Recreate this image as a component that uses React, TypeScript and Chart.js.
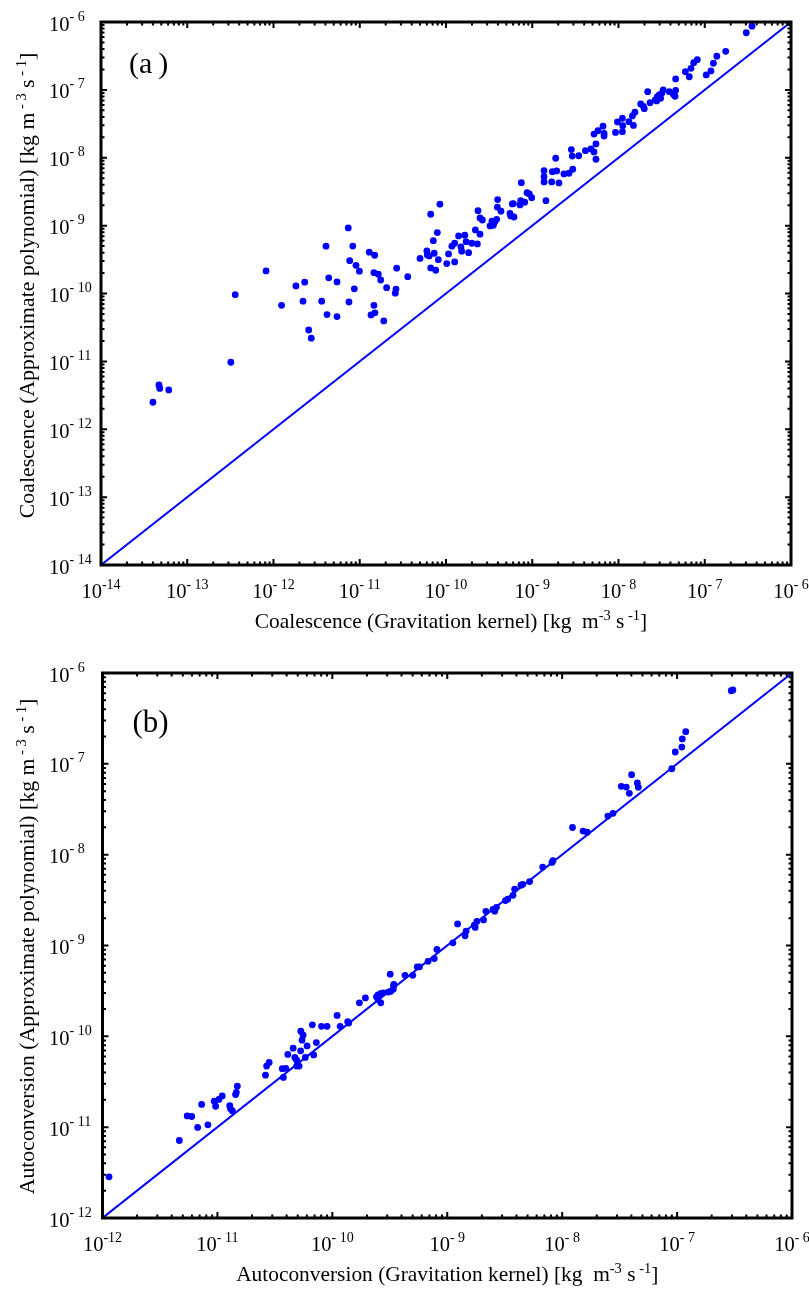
import React, { useEffect, useRef } from 'react';
import { Chart, registerables } from 'chart.js';

Chart.register(...registerables);

// ---------------- data: panel (a) coalescence ----------------
const coalGravitation = [
  4.0e-14, 4.7e-14, 4.8e-14, 6.1e-14, 3.2e-13, 3.6e-13, 8.2e-13, 1.24e-12, 1.82e-12, 2.3e-12,
  2.2e-12, 2.56e-12, 2.74e-12, 3.62e-12, 4.06e-12, 4.37e-12, 4.17e-12, 5.45e-12, 5.45e-12, 7.36e-12,
  8.3e-12, 7.65e-12, 9.05e-12, 9.9e-12, 7.5e-12, 8.65e-12, 1.29e-11, 1.49e-11, 1.46e-11, 1.64e-11,
  1.75e-11, 1.46e-11, 1.35e-11, 1.5e-11, 1.9e-11, 2.05e-11, 2.68e-11, 2.63e-11, 2.58e-11, 3.6e-11,
  5.0e-11, 6.0e-11, 6.07e-11, 6.4e-11, 6.65e-11, 8.5e-11, 7.13e-11, 7.93e-11, 7.3e-11, 8.15e-11,
  6.65e-11, 7.6e-11, 1.02e-10, 1.07e-10, 1.26e-10, 1.17e-10, 1.26e-10, 1.4e-10, 1.49e-10, 1.52e-10,
  1.65e-10, 1.71e-10, 1.83e-10, 1.99e-10, 2.31e-10, 2.19e-10, 2.48e-10, 2.35e-10, 2.48e-10, 2.64e-10,
  3.24e-10, 3.54e-10, 3.67e-10, 3.87e-10, 3.41e-10, 3.97e-10, 3.94e-10, 4.34e-10, 5.52e-10, 5.62e-10,
  6.14e-10, 5.87e-10, 6.04e-10, 7.21e-10, 7.35e-10, 8.18e-10, 7.47e-10, 8.7e-10, 9.25e-10, 9.86e-10,
  1.44e-9, 1.37e-9, 1.37e-9, 1.37e-9, 1.68e-9, 1.71e-9, 1.92e-9, 1.87e-9, 2.04e-9, 2.33e-9,
  2.67e-9, 2.95e-9, 2.84e-9, 2.91e-9, 3.46e-9, 4.14e-9, 4.8e-9, 5.2e-9, 5.48e-9, 5.48e-9,
  5.2e-9, 5.78e-9, 6.61e-9, 6.8e-9, 6.8e-9, 9.23e-9, 9.73e-9, 1.11e-8, 1.12e-8, 1.11e-8,
  1.32e-8, 1.49e-8, 1.45e-8, 1.55e-8, 1.81e-8, 1.94e-8, 1.99e-8, 2.18e-8, 2.32e-8, 2.67e-8,
  2.82e-8, 2.97e-8, 3.17e-8, 3.3e-8, 3.08e-8, 2.77e-8, 3.88e-8, 4.32e-8, 4.6e-8, 4.52e-8,
  4.6e-8, 5.96e-8, 6.62e-8, 6.93e-8, 7.45e-8, 8.2e-8, 1.04e-7, 1.18e-7, 1.26e-7, 1.38e-7,
  1.75e-7, 3.03e-7, 3.53e-7,
];
const coalPolynomial = [
  2.5e-12, 4.5e-12, 4.0e-12, 3.8e-12, 9.7e-12, 9.6e-11, 2.15e-10, 6.7e-11, 1.29e-10, 1.47e-10,
  7.7e-11, 2.9e-11, 2.2e-11, 7.7e-11, 4.98e-10, 1.7e-10, 4.9e-11, 1.48e-10, 4.57e-11, 9.25e-10,
  5.0e-10, 3.05e-10, 2.6e-10, 2.13e-10, 7.5e-11, 1.17e-10, 4.06e-10, 3.66e-10, 2.03e-10, 1.92e-10,
  1.58e-10, 6.7e-11, 4.84e-11, 5.2e-11, 3.95e-11, 1.22e-10, 2.36e-10, 1.16e-10, 1.01e-10, 1.77e-10,
  3.29e-10, 4.24e-10, 3.7e-10, 3.58e-10, 1.47e-9, 2.07e-9, 6.0e-10, 7.9e-10, 3.92e-10, 3.15e-10,
  2.38e-10, 2.2e-10, 2.76e-10, 3.83e-10, 2.92e-10, 4.98e-10, 5.5e-10, 7.05e-10, 4.85e-10, 4.2e-10,
  7.23e-10, 5.8e-10, 4.0e-10, 5.5e-10, 5.37e-10, 8.65e-10, 7.47e-10, 1.66e-9, 1.3e-9, 1.21e-9,
  9.9e-10, 1.01e-9, 1.13e-9, 1.24e-9, 1.16e-9, 2.42e-9, 1.87e-9, 1.63e-9, 1.52e-9, 1.39e-9,
  1.34e-9, 2.09e-9, 2.11e-9, 2.02e-9, 2.33e-9, 2.21e-9, 4.3e-9, 3.06e-9, 2.93e-9, 2.58e-9,
  2.33e-9, 6.46e-9, 5.27e-9, 4.4e-9, 4.4e-9, 6.24e-9, 6.4e-9, 9.84e-9, 4.26e-9, 5.77e-9,
  5.91e-9, 6.77e-9, 1.32e-8, 1.06e-8, 1.07e-8, 1.27e-8, 1.35e-8, 1.22e-8, 9.5e-9, 1.6e-8,
  2.23e-8, 2.5e-8, 2.92e-8, 2.28e-8, 2.09e-8, 2.36e-8, 3.37e-8, 3.82e-8, 2.97e-8, 2.42e-8,
  3.4e-8, 2.99e-8, 4.13e-8, 4.68e-8, 6.2e-8, 5.73e-8, 5.29e-8, 9.4e-8, 6.48e-8, 7.1e-8,
  7.94e-8, 8.41e-8, 8.91e-8, 9.97e-8, 7.52e-8, 6.87e-8, 9.4e-8, 8.61e-8, 9.86e-8, 8.05e-8,
  1.45e-7, 1.85e-7, 1.56e-7, 2.08e-7, 2.52e-7, 2.79e-7, 1.66e-7, 1.9e-7, 2.47e-7, 3.13e-7,
  3.7e-7, 6.95e-7, 8.67e-7,
];

// ---------------- data: panel (b) autoconversion ----------------
const autoGravitation = [
  2.96e-7, 3.06e-7, 1.19e-7, 1.11e-7, 1.1e-7, 9.64e-8, 9.0e-8, 4.02e-8, 3.27e-8, 3.61e-8,
  3.84e-8, 4.51e-8, 4.6e-8, 2.5e-8, 2.77e-8, 1.23e-8, 1.52e-8, 1.65e-8, 8.32e-9, 8.15e-9,
  6.77e-9, 5.21e-9, 4.38e-9, 4.54e-9, 3.86e-9, 3.73e-9, 3.21e-9, 3.36e-9, 2.59e-9, 2.68e-9,
  2.5e-9, 2.17e-9, 2.07e-9, 1.81e-9, 1.75e-9, 1.72e-9, 1.46e-9, 1.43e-9, 1.23e-9, 1.12e-9,
  8.13e-10, 7.71e-10, 6.81e-10, 5.73e-10, 5.48e-10, 5.01e-10, 4.29e-10, 3.41e-10, 3.39e-10, 3.21e-10,
  3.07e-10, 3.43e-10, 3.19e-10, 2.77e-10, 2.65e-10, 2.5e-10, 2.42e-10, 2.64e-10, 2.5e-10, 1.94e-10,
  1.72e-10, 1.39e-10, 1.36e-10, 1.17e-10, 1.1e-10, 9.0e-11, 8.05e-11, 6.7e-11, 7.26e-11, 6.88e-11,
  5.82e-11, 6.03e-11, 5.57e-11, 5.32e-11, 5.45e-11, 5.3e-11, 4.56e-11, 4.1e-11, 4.72e-11, 4.89e-11,
  5.14e-11, 4.89e-11, 3.67e-11, 3.94e-11, 3.75e-11, 2.62e-11, 2.68e-11, 2.82e-11, 1.44e-11, 1.49e-11,
  1.46e-11, 1.28e-11, 1.3e-11, 1.35e-11, 1.03e-11, 1.1e-11, 9.38e-12, 9.65e-12, 8.27e-12, 7.29e-12,
  6.73e-12, 5.46e-12, 5.97e-12, 4.66e-12, 1.14e-12,
];
const autoPolynomial = [
  6.38e-7, 6.5e-7, 2.26e-7, 1.88e-7, 1.53e-7, 1.35e-7, 8.83e-8, 7.59e-8, 5.65e-8, 5.55e-8,
  4.73e-8, 6.15e-8, 5.51e-8, 2.66e-8, 2.85e-8, 1.99e-8, 1.82e-8, 1.77e-8, 8.57e-9, 8.22e-9,
  7.3e-9, 5.06e-9, 4.62e-9, 4.71e-9, 4.16e-9, 3.57e-9, 3.12e-9, 3.24e-9, 2.39e-9, 2.63e-9,
  2.5e-9, 2.38e-9, 1.91e-9, 1.84e-9, 1.58e-9, 1.68e-9, 1.44e-9, 1.28e-9, 1.73e-9, 1.07e-9,
  9.06e-10, 7.18e-10, 6.7e-10, 5.82e-10, 5.81e-10, 4.7e-10, 4.7e-10, 3.57e-10, 3.29e-10, 3.12e-10,
  3.07e-10, 3.74e-10, 4.84e-10, 3.01e-10, 2.96e-10, 2.86e-10, 2.72e-10, 2.34e-10, 2.55e-10, 2.65e-10,
  2.34e-10, 1.4e-10, 1.45e-10, 1.29e-10, 1.7e-10, 1.29e-10, 1.29e-10, 1.34e-10, 8.53e-11, 6.24e-11,
  5.86e-11, 7.84e-11, 1.03e-10, 1.14e-10, 9.08e-11, 6.92e-11, 7.41e-11, 6.32e-11, 5.86e-11, 5.47e-11,
  4.7e-11, 4.7e-11, 4.41e-11, 4.44e-11, 3.53e-11, 3.74e-11, 4.7e-11, 5.16e-11, 2.29e-11, 2.83e-11,
  2.41e-11, 1.72e-11, 1.59e-11, 1.51e-11, 2.02e-11, 2.21e-11, 1.93e-11, 1.7e-11, 1.06e-11, 1.78e-11,
  9.93e-12, 1.33e-11, 1.31e-11, 7.13e-12, 2.84e-12,
];

// ---------------- axes ----------------
const coalDecades = [-14, -13, -12, -11, -10, -9, -8, -7, -6];
const coalXTickSup = ['-14', '- 13', '- 12', '- 11', '- 10', '- 9', '- 8', '- 7', '- 6'];
const coalYTickSup = ['- 14', '- 13', '- 12', '- 11', '- 10', '- 9', '- 8', '- 7', '- 6'];
const autoDecades = [-12, -11, -10, -9, -8, -7, -6];
const autoXTickSup = ['-12', '- 11', '- 10', '- 9', '- 8', '- 7', '- 6'];
const autoYTickSup = ['- 12', '- 11', '- 10', '- 9', '- 8', '- 7', '- 6'];

type Seg = { t: string; sup?: boolean };
const coalXTitle: Seg[] = [
  { t: 'Coalescence (Gravitation kernel) [kg  m' }, { t: '-3', sup: true }, { t: ' s' }, { t: ' -1', sup: true }, { t: ']' },
];
const coalYTitle: Seg[] = [
  { t: 'Coalescence (Approximate polynomial) [kg m' }, { t: ' - 3', sup: true }, { t: ' s' }, { t: ' - 1', sup: true }, { t: ']' },
];
const autoXTitle: Seg[] = [
  { t: 'Autoconversion (Gravitation kernel) [kg  m' }, { t: '-3', sup: true }, { t: ' s' }, { t: ' -1', sup: true }, { t: ']' },
];
const autoYTitle: Seg[] = [
  { t: 'Autoconversion (Approximate polynomial) [kg m' }, { t: ' - 3', sup: true }, { t: ' s' }, { t: ' - 1', sup: true }, { t: ']' },
];

const FONT = '"Liberation Serif", "Times New Roman", serif';
const BLUE = '#0000ff';

function drawRich(ctx: CanvasRenderingContext2D, segs: Seg[], x: number, y: number, size: number, supSize: number, rise: number, align: 'left' | 'center') {
  const fontMain = `${size}px ${FONT}`;
  const fontSup = `${supSize}px ${FONT}`;
  let total = 0;
  const widths = segs.map((s) => {
    ctx.font = s.sup ? fontSup : fontMain;
    const w = ctx.measureText(s.t).width;
    total += w;
    return w;
  });
  let cx = align === 'center' ? x - total / 2 : x;
  ctx.textAlign = 'left';
  ctx.textBaseline = 'alphabetic';
  segs.forEach((s, i) => {
    ctx.font = s.sup ? fontSup : fontMain;
    ctx.fillText(s.t, cx, s.sup ? y - rise : y);
    cx += widths[i];
  });
}

type PanelCfg = {
  decades: number[];
  xSup: string[];
  ySup: string[];
  xTitle: Seg[];
  yTitle: Seg[];
  xTitleShift: number;
  yTitleShift: number;
  label: string;
  labelSize: number;
  labelDx: number;
  labelDy: number;
};

function decorPlugin(cfg: PanelCfg) {
  return {
    id: 'decor',
    afterDraw(chart: any) {
      const ctx: CanvasRenderingContext2D = chart.ctx;
      const { left, right, top, bottom } = chart.chartArea;
      const xs = chart.scales.x;
      const ys = chart.scales.y;
      const maxV = Math.pow(10, cfg.decades[cfg.decades.length - 1]) * 1.0001;
      ctx.save();
      ctx.fillStyle = '#000';
      ctx.strokeStyle = '#000';
      // ticks (inward, all four sides)
      ctx.lineWidth = 2;
      ctx.beginPath();
      for (const e of cfg.decades) {
        for (let k = 1; k <= 9; k++) {
          const v = k * Math.pow(10, e);
          if (v > maxV) break;
          const len = k === 1 ? 6 : 3.5;
          const px = xs.getPixelForValue(v);
          ctx.moveTo(px, bottom); ctx.lineTo(px, bottom - len);
          ctx.moveTo(px, top); ctx.lineTo(px, top + len);
          const py = ys.getPixelForValue(v);
          ctx.moveTo(left, py); ctx.lineTo(left + len, py);
          ctx.moveTo(right, py); ctx.lineTo(right - len, py);
        }
      }
      ctx.stroke();
      // frame
      ctx.lineWidth = 3;
      ctx.strokeRect(left, top, right - left, bottom - top);
      // tick labels
      cfg.decades.forEach((e, i) => {
        const v = Math.pow(10, e);
        const px = xs.getPixelForValue(v);
        drawRich(ctx, [{ t: '10' }, { t: cfg.xSup[i], sup: true }], px, bottom + 32.5, 20.5, 14, 9, 'center');
        const py = ys.getPixelForValue(v);
        drawRich(ctx, [{ t: '10' }, { t: cfg.ySup[i], sup: true }], 49, py + 8.5, 20.5, 14, 10, 'left');
      });
      // axis titles
      drawRich(ctx, cfg.xTitle, (left + right) / 2 + cfg.xTitleShift, bottom + 63, 21.4, 14.5, 8, 'center');
      ctx.save();
      ctx.translate(34, (top + bottom) / 2 + cfg.yTitleShift);
      ctx.rotate(-Math.PI / 2);
      drawRich(ctx, cfg.yTitle, 0, 0, 21.8, 14.5, 8, 'center');
      ctx.restore();
      // panel label
      ctx.font = `${cfg.labelSize}px ${FONT}`;
      ctx.textAlign = 'left';
      ctx.textBaseline = 'alphabetic';
      ctx.fillText(cfg.label, left + cfg.labelDx, top + cfg.labelDy);
      ctx.restore();
    },
  };
}

function makeChart(canvas: HTMLCanvasElement, xVals: number[], yVals: number[], decades: number[], pad: { top: number; right: number }, yAxisWidth: number, xAxisHeight: number, cfg: PanelCfg) {
  const minV = Math.pow(10, decades[0]);
  const maxV = Math.pow(10, decades[decades.length - 1]);
  const points = xVals.map((x, i) => ({ x, y: yVals[i] }));
  return new Chart(canvas, {
    type: 'scatter',
    data: {
      datasets: [
        {
          data: points,
          pointRadius: 3.4,
          pointBackgroundColor: BLUE,
          pointBorderWidth: 0,
          showLine: false,
        } as any,
        {
          data: [{ x: minV, y: minV }, { x: maxV, y: maxV }],
          showLine: true,
          borderColor: BLUE,
          borderWidth: 2,
          pointRadius: 0,
        } as any,
      ],
    },
    options: {
      responsive: false,
      animation: false,
      events: [],
      layout: { padding: { top: pad.top, right: pad.right, bottom: 0, left: 0 } },
      plugins: { legend: { display: false }, tooltip: { enabled: false } },
      scales: {
        x: {
          type: 'logarithmic',
          min: minV,
          max: maxV,
          grid: { display: false },
          border: { display: false },
          ticks: { display: false },
          afterFit: (s: any) => { s.height = xAxisHeight; },
        },
        y: {
          type: 'logarithmic',
          min: minV,
          max: maxV,
          grid: { display: false },
          border: { display: false },
          ticks: { display: false },
          afterFit: (s: any) => { s.width = yAxisWidth; },
        },
      },
    } as any,
    plugins: [decorPlugin(cfg)],
  });
}

export default function App() {
  const refA = useRef<HTMLCanvasElement>(null);
  const refB = useRef<HTMLCanvasElement>(null);

  useEffect(() => {
    const a = makeChart(refA.current!, coalGravitation, coalPolynomial, coalDecades, { top: 22, right: 18 }, 101, 75, {
      decades: coalDecades, xSup: coalXTickSup, ySup: coalYTickSup, xTitle: coalXTitle, yTitle: coalYTitle,
      xTitleShift: 5, yTitleShift: -8,
      label: '(a\u2009)', labelSize: 30, labelDx: 28, labelDy: 51,
    });
    const b = makeChart(refB.current!, autoGravitation, autoPolynomial, autoDecades, { top: 33, right: 17 }, 102.5, 72, {
      decades: autoDecades, xSup: autoXTickSup, ySup: autoYTickSup, xTitle: autoXTitle, yTitle: autoYTitle,
      xTitleShift: 0, yTitleShift: 1,
      label: '(b)', labelSize: 31, labelDx: 30, labelDy: 59,
    });
    return () => { a.destroy(); b.destroy(); };
  }, []);

  return (
    <div style={{ position: 'absolute', left: 0, top: 0, width: 809, height: 1290, background: '#fff' }}>
      <canvas ref={refA} width={809} height={640} style={{ position: 'absolute', left: 0, top: 0, display: 'block' }} />
      <canvas ref={refB} width={809} height={650} style={{ position: 'absolute', left: 0, top: 640, display: 'block' }} />
    </div>
  );
}
